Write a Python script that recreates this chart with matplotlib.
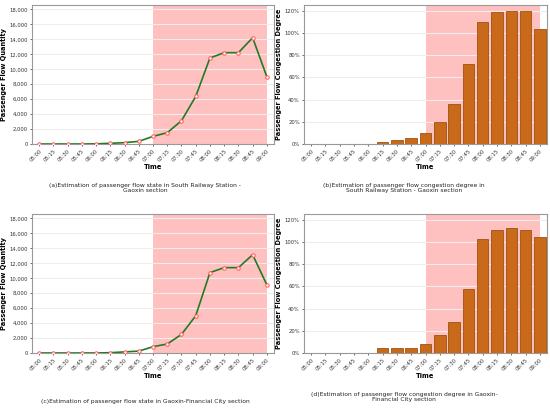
import numpy as np
import matplotlib
matplotlib.use("Agg")
import matplotlib.pyplot as plt
from matplotlib.ticker import FuncFormatter

times = ['05:00', '05:15', '05:30', '05:45', '06:00', '06:15', '06:30', '06:45', '07:00',
         '07:15', '07:30', '07:45', '08:00', '08:15', '08:30', '08:45', '09:00']

# passenger flow quantity
flow_south = [0, 0, 0, 0, 20, 90, 180, 355, 1020, 1510, 3110, 6360, 11510, 12220, 12220, 14220, 8980]
flow_fin = [0, 0, 0, 0, 0, 40, 150, 250, 840, 1200, 2490, 4980, 10760, 11420, 11420, 13150, 9110]

# congestion degree (%)
cong_south = [0.3, 0.3, 0.3, 0.3, 0.3, 2.1, 3.9, 5.1, 10.2, 20.1, 36.0, 72.3, 110.0, 119.0, 120.0, 120.0, 103.0]
cong_fin = [0.3, 0.3, 0.3, 0.3, 0.3, 4.2, 4.2, 4.2, 8.1, 16.2, 27.9, 57.3, 102.3, 111.0, 112.2, 111.0, 104.1]

captions = ['(a)Estimation of passenger flow state in South Railway Station -\nGaoxin section',
            '(b)Estimation of passenger flow congestion degree in\nSouth Railway Station - Gaoxin section',
            '(c)Estimation of passenger flow state in Gaoxin-Financial City section',
            '(d)Estimation of passenger flow congestion degree in Gaoxin-\nFinancial City section']

peak_start, peak_end = 8, 16  # 07:00 .. 09:00

fig = plt.figure(figsize=(5.5, 4.09), dpi=100)
W, H = 550.0, 409.0


def make_ax(x0, x1, y0, y1):
    return fig.add_axes([x0 / W, 1 - y1 / H, (x1 - x0) / W, (y1 - y0) / H])


def style(ax):
    for s in ax.spines.values():
        s.set_color('#999999')
        s.set_linewidth(0.8)
    ax.tick_params(axis='both', labelsize=3.8, length=1.5, width=0.5, pad=1.5, colors='#333333')
    ax.set_xticks(range(len(times)))
    ax.set_xticklabels(times, rotation=45, ha='right', rotation_mode='anchor')
    ax.set_xlim(-0.5, len(times) - 0.5)
    ax.grid(axis='y', color='#eeeeee', linewidth=0.8)
    ax.set_axisbelow(True)
    ax.set_xlabel('Time', fontsize=4.8, fontweight='bold', labelpad=1)


def line_panel(ax, vals):
    x = np.arange(len(times))
    ax.axvspan(peak_start, peak_end, color='#ffc0c0', zorder=0.5, lw=0)
    ax.plot(x, vals, color='#237a23', lw=1.2, marker='o', markersize=2.5,
            markerfacecolor='#fff0f0', markeredgecolor='#ff5a5a', markeredgewidth=0.7, zorder=3)
    ax.set_ylim(0, 18600)
    ax.set_yticks(range(0, 18001, 2000))
    ax.yaxis.set_major_formatter(FuncFormatter(lambda v, p: f'{int(v):,}'))
    ax.set_ylabel('Passenger Flow Quantity', fontsize=4.8, fontweight='bold', labelpad=2)
    style(ax)


def bar_panel(ax, vals):
    x = np.arange(len(times))
    ax.axvspan(peak_start, peak_end, color='#ffc0c0', zorder=0.5, lw=0)
    ax.bar(x, vals, width=0.8, color='#c86a1a', edgecolor='#a0520f', linewidth=0.6, zorder=3)
    ax.set_ylim(0, 125)
    ax.set_yticks(range(0, 121, 20))
    ax.yaxis.set_major_formatter(FuncFormatter(lambda v, p: f'{int(v)}%'))
    ax.set_ylabel('Passenger Flow Congestion Degree', fontsize=4.8, fontweight='bold', labelpad=2)
    style(ax)


ax1 = make_ax(32, 274, 5, 144)
ax2 = make_ax(304, 547, 5, 144)
ax3 = make_ax(32, 274, 214, 353)
ax4 = make_ax(304, 547, 214, 353)

line_panel(ax1, flow_south)
bar_panel(ax2, cong_south)
line_panel(ax3, flow_fin)
bar_panel(ax4, cong_fin)

cap_kw = dict(ha='center', va='center', fontsize=4.3, color='#222222', linespacing=1.15)
fig.text(145 / W, 1 - 188 / H, captions[0], **cap_kw)
fig.text(404 / W, 1 - 188 / H, captions[1], **cap_kw)
fig.text(145 / W, 1 - 401 / H, captions[2], **cap_kw)
fig.text(404 / W, 1 - 397 / H, captions[3], **cap_kw)

fig.savefig('out.png', dpi=100)
